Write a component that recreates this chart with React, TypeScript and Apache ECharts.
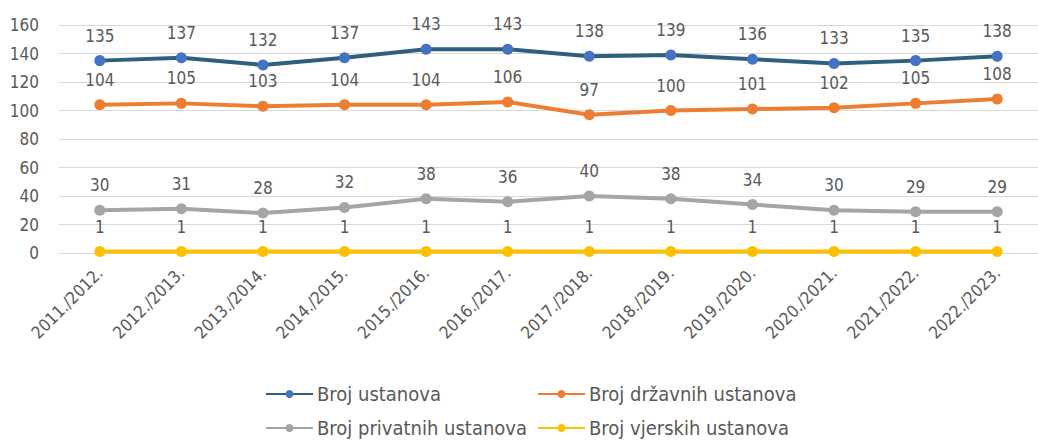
import React, { useEffect, useRef } from "react";
import * as echarts from "echarts";

const categories = [
  "2011./2012.", "2012./2013.", "2013./2014.", "2014./2015.", "2015./2016.", "2016./2017.",
  "2017./2018.", "2018./2019.", "2019./2020.", "2020./2021.", "2021./2022.", "2022./2023.",
];
const ukupno = [135, 137, 132, 137, 143, 143, 138, 139, 136, 133, 135, 138];
const drzavne = [104, 105, 103, 104, 104, 106, 97, 100, 101, 102, 105, 108];
const privatne = [30, 31, 28, 32, 38, 36, 40, 38, 34, 30, 29, 29];
const vjerske = [1, 1, 1, 1, 1, 1, 1, 1, 1, 1, 1, 1];

const FONT = "'DejaVu Sans Condensed', 'DejaVu Sans', sans-serif";
const TEXT = "#595959";

function mk(name: string, data: number[], lineColor: string, markColor: string) {
  return {
    name,
    type: "line",
    data,
    symbol: "circle",
    symbolSize: 11,
    lineStyle: { color: lineColor, width: 4 },
    itemStyle: { color: markColor },
    label: {
      show: true,
      position: "top",
      distance: 11,
      color: TEXT,
      fontFamily: FONT,
      fontSize: 17,
    },
  };
}

function leg(name: string, left: number, top: number) {
  return {
    data: [name],
    left,
    top,
    padding: 0,
    itemWidth: 47,
    itemHeight: 10,
    itemGap: 0,
    textStyle: { color: TEXT, fontFamily: FONT, fontSize: 20, padding: [0, 0, 0, -1] },
  };
}

export default function App() {
  const ref = useRef<HTMLDivElement>(null);
  useEffect(() => {
    if (!ref.current) return;
    const chart = echarts.init(ref.current, undefined, { renderer: "svg" });
    chart.setOption({
      animation: false,
      backgroundColor: "#ffffff",
      grid: { left: 59, right: -6, top: 25, height: 228 },
      xAxis: {
        type: "category",
        data: categories,
        boundaryGap: true,
        axisLine: { show: false },
        axisTick: { show: false },
        axisLabel: {
          rotate: 45,
          interval: 0,
          color: TEXT,
          fontFamily: FONT,
          fontSize: 17,
          margin: 17,
        },
      },
      yAxis: {
        type: "value",
        min: 0,
        max: 160,
        interval: 20,
        axisLine: { show: false },
        axisTick: { show: false },
        splitLine: { lineStyle: { color: "#d9d9d9", width: 1 } },
        axisLabel: { color: TEXT, fontFamily: FONT, fontSize: 17, margin: 20 },
      },
      legend: [
        leg("Broj ustanova", 265, 384),
        leg("Broj državnih ustanova", 537, 384),
        leg("Broj privatnih ustanova", 265, 418),
        leg("Broj vjerskih ustanova", 537, 418),
      ],
      series: [
        mk("Broj ustanova", ukupno, "#2f5f7f", "#4472c4"),
        mk("Broj državnih ustanova", drzavne, "#ed7d31", "#ed7d31"),
        mk("Broj privatnih ustanova", privatne, "#a5a5a5", "#a5a5a5"),
        mk("Broj vjerskih ustanova", vjerske, "#ffc000", "#ffc000"),
      ],
    });
    return () => chart.dispose();
  }, []);
  return (
    <div
      ref={ref}
      style={{ position: "fixed", left: 0, top: 0, width: 1038, height: 442 }}
    />
  );
}
